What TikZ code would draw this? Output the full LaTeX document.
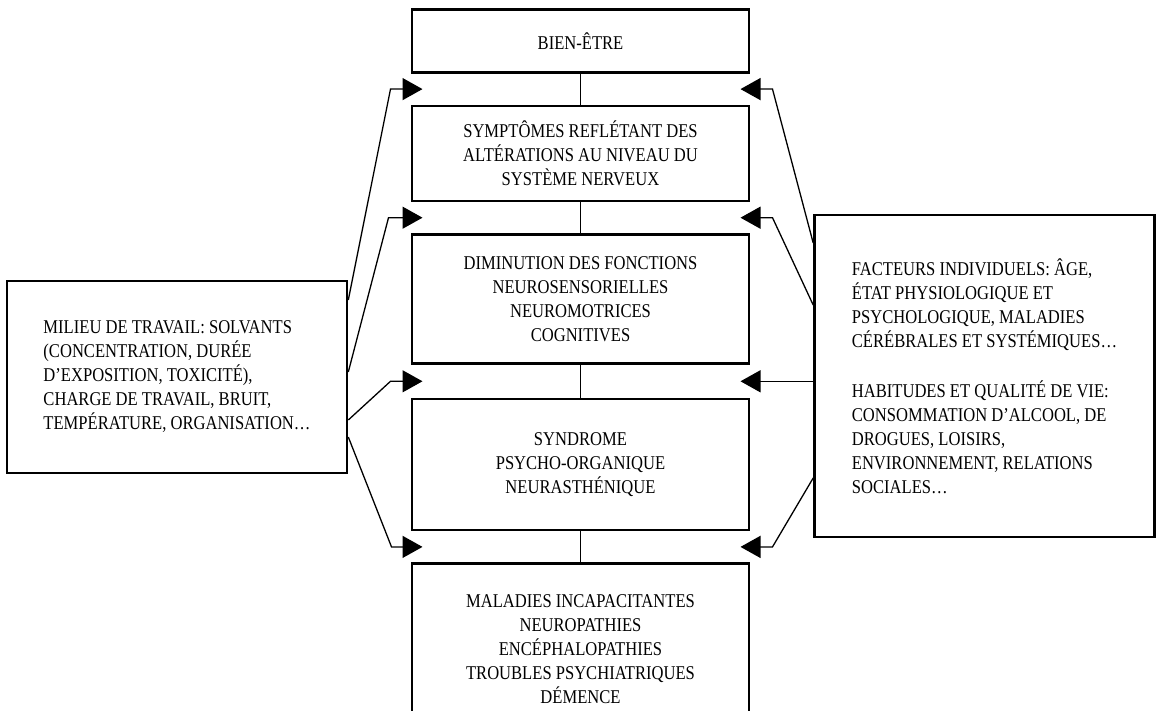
\documentclass[tikz,border=0pt]{standalone}
\usepackage{fontspec}
\setmainfont{Liberation Serif}[FakeStretch=0.85]
\usetikzlibrary{arrows.meta,positioning,calc}

\begin{document}
\begin{tikzpicture}[x=1pt,y=1pt,node distance=31pt,
  >={Triangle[length=20pt,width=22pt]},
  stage/.style={draw,line width=2.6pt,minimum width=337pt,align=center,
    font=\fontsize{19.5}{24}\selectfont},
  factor/.style={draw,line width=2.6pt,minimum width=340pt,
    align=left,font=\fontsize{19.5}{24}\selectfont},
  link/.style={line width=1.3pt}]
  \clip (0,0) rectangle (1160,-711);
  % central chain
  \node[stage,minimum height=63pt,anchor=north] (bien) at (580.5,-8) {BIEN-ÊTRE};
  \node[stage,minimum height=95pt,below=of bien] (symptomes)
    {SYMPTÔMES REFLÉTANT DES\\ALTÉRATIONS AU NIVEAU DU\\SYSTÈME NERVEUX};
  \node[stage,minimum height=129pt,below=of symptomes] (fonctions)
    {DIMINUTION DES FONCTIONS\\NEUROSENSORIELLES\\NEUROMOTRICES\\COGNITIVES};
  \node[stage,minimum height=131pt,below=33pt of fonctions] (syndrome)
    {SYNDROME\\PSYCHO-ORGANIQUE\\NEURASTHÉNIQUE};
  \node[stage,minimum height=170pt,below=of syndrome] (maladies)
    {MALADIES INCAPACITANTES\\NEUROPATHIES\\ENCÉPHALOPATHIES\\TROUBLES PSYCHIATRIQUES\\DÉMENCE};
  % side factors
  \node[factor,minimum height=192pt] (milieu) at (177,-377)
    {MILIEU DE TRAVAIL: SOLVANTS\\(CONCENTRATION, DURÉE\\D’EXPOSITION, TOXICITÉ),\\CHARGE DE TRAVAIL, BRUIT,\\TEMPÉRATURE, ORGANISATION\ldots};
  \node[factor,minimum height=322pt] (facteurs) at (984.5,-376)
    {FACTEURS INDIVIDUELS: ÂGE,\\ÉTAT PHYSIOLOGIQUE ET\\PSYCHOLOGIQUE, MALADIES\\CÉRÉBRALES ET SYSTÉMIQUES\ldots\\[26pt]
     HABITUDES ET QUALITÉ DE VIE:\\CONSOMMATION D’ALCOOL, DE\\DROGUES, LOISIRS,\\ENVIRONNEMENT, RELATIONS\\SOCIALES\ldots};

  \draw[link] (bien) -- (symptomes);
  \draw[link] (symptomes) -- (fonctions);
  \draw[link] (fonctions) -- (syndrome);
  \draw[link] (syndrome) -- (maladies);

  % gaps between the stages
  \foreach \a/\b [count=\i] in {bien/symptomes,symptomes/fonctions,fonctions/syndrome,syndrome/maladies}
    \coordinate (g\i) at ($(\a.south)!.5!(\b.north)$);

  % working environment
  \draw[link,->] ($(milieu.east)+(0,77)$) -- ($(g1)+(-190,0)$) -- ($(g1)+(-158,0)$);
  \draw[link,->] ($(milieu.east)+(0,5)$) -- ($(g2)+(-192,0)$) -- ($(g2)+(-158,0)$);
  \draw[link,->] ($(milieu.east)+(0,-43)$) -- ($(g3)+(-190,0)$) -- ($(g3)+(-158,0)$);
  \draw[link,->] ($(milieu.east)+(0,-60)$) -- ($(g4)+(-189,0)$) -- ($(g4)+(-158,0)$);

  % individual factors
  \draw[link,->] ($(facteurs.west)+(0,133)$) -- ($(g1)+(192,0)$) -- ($(g1)+(160,0)$);
  \draw[link,->] ($(facteurs.west)+(0,71)$) -- ($(g2)+(192,0)$) -- ($(g2)+(160,0)$);
  \draw[link,->] (facteurs.west |- g3) -- ($(g3)+(160,0)$);
  \draw[link,->] ($(facteurs.west)+(0,-102)$) -- ($(g4)+(192,0)$) -- ($(g4)+(160,0)$);
\end{tikzpicture}
\end{document}
